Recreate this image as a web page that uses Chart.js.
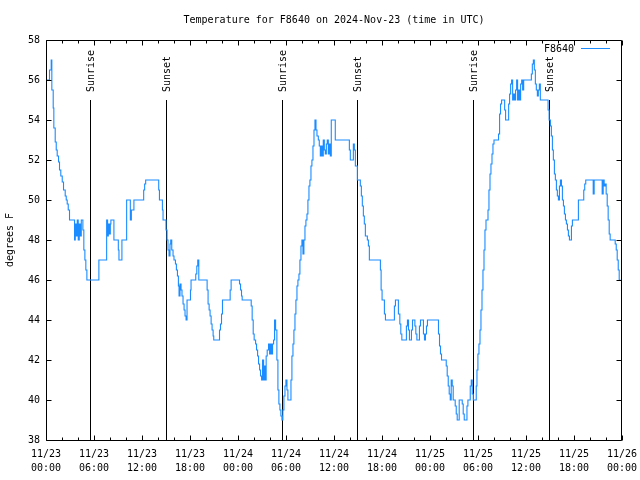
<!DOCTYPE html>
<html>
<head>
<meta charset="utf-8">
<script src="https://cdn.jsdelivr.net/npm/chart.js@4/dist/chart.umd.min.js"></script>
<style>
  html, body { margin: 0; padding: 0; background: #fff; }
  #wrap { width: 640px; height: 480px; }
</style>
</head>
<body>
<div id="wrap"><canvas id="tempChart" width="640" height="480"></canvas></div>
<script>
// hours since 11/23 00:00 UTC, and temperature (F) from that moment on
const tempHours = [
  0, 0.44, 0.65, 0.73, 0.90, 0.98, 1.15, 1.28, 1.40, 1.57,
  1.69, 1.85, 2.03, 2.19, 2.40, 2.53, 2.65, 2.78, 2.94, 3.57,
  3.66, 3.78, 3.91, 4.03, 4.16, 4.28, 4.41, 4.61, 4.73, 4.86,
  4.98, 5.11, 6.61, 7.58, 7.70, 7.79, 7.91, 8.04, 8.11, 8.49,
  9.04, 9.12, 9.49, 10.08, 10.54, 10.67, 10.99, 12.21, 12.33, 12.46,
  14.09, 14.18, 14.55, 14.63, 15.00, 15.13, 15.25, 15.38, 15.50, 15.59,
  15.72, 15.88, 16.00, 16.18, 16.30, 16.43, 16.55, 16.63, 16.75, 16.88,
  17.00, 17.13, 17.26, 17.38, 17.51, 17.63, 18.06, 18.13, 18.72, 18.85,
  18.97, 19.10, 20.14, 20.26, 20.39, 20.51, 20.64, 20.76, 20.89, 20.97,
  21.69, 21.81, 21.94, 22.06, 23.02, 23.14, 24.19, 24.32, 24.44, 24.52,
  25.65, 25.77, 25.90, 26.02, 26.20, 26.32, 26.45, 26.57, 26.70, 26.82,
  26.95, 27.07, 27.20, 27.27, 27.40, 27.52, 27.65, 27.82, 27.95, 28.07,
  28.20, 28.32, 28.45, 28.57, 28.70, 28.86, 28.99, 29.11, 29.24, 29.36,
  29.49, 29.61, 29.74, 29.87, 29.99, 30.12, 30.24, 30.62, 30.74, 30.87,
  30.99, 31.12, 31.24, 31.37, 31.49, 31.62, 31.74, 31.87, 31.99, 32.12,
  32.24, 32.37, 32.49, 32.62, 32.74, 32.87, 32.99, 33.12, 33.24, 33.37,
  33.50, 33.62, 33.75, 33.87, 34.04, 34.16, 34.29, 34.41, 34.54, 34.66,
  34.79, 34.91, 35.04, 35.16, 35.29, 35.41, 35.54, 35.66, 36.16, 37.92,
  38.04, 38.42, 38.54, 38.67, 38.92, 39.29, 39.42, 39.54, 39.67, 39.79,
  39.92, 40.17, 40.30, 40.42, 41.80, 41.89, 42.01, 42.30, 42.43, 43.55,
  43.68, 44.05, 44.23, 44.35, 44.48, 45.05, 45.18, 45.31, 45.43, 45.68,
  45.81, 46.11, 46.23, 46.36, 46.68, 46.81, 47.18, 47.31, 47.43, 47.56,
  47.68, 49.06, 49.19, 49.31, 49.44, 50.03, 50.15, 50.28, 50.40, 50.53,
  50.65, 50.78, 50.90, 51.15, 51.28, 51.40, 51.65, 52.03, 52.15, 52.28,
  52.62, 52.74, 53.03, 53.16, 53.28, 53.41, 53.78, 53.87, 53.99, 54.12,
  54.25, 54.37, 54.50, 54.62, 54.75, 54.87, 55.00, 55.25, 55.37, 55.50,
  55.62, 55.75, 55.87, 56.00, 56.57, 56.70, 56.82, 56.95, 57.33, 57.45,
  57.83, 57.95, 58.08, 58.20, 58.33, 58.45, 58.58, 58.70, 58.83, 58.95,
  59.08, 59.20, 59.33, 59.46, 59.58, 59.71, 60.67, 60.79, 60.92, 61.04,
  61.17, 61.29, 61.42, 61.54, 61.67, 61.79, 62.76, 62.89, 63.05, 63.17,
  63.30, 63.42, 63.55, 63.67, 63.80, 63.92, 64.05, 64.18, 64.30, 64.43,
  64.55, 64.68, 64.80, 64.93, 65.05, 65.18, 65.30, 65.43, 65.68, 65.80,
  66.55, 67.22, 67.34, 67.47, 68.40, 68.52, 69.52, 69.65, 69.77, 69.90,
  70.02, 70.15, 70.27, 70.40, 70.52, 71.15, 71.28, 71.40, 71.53, 71.65,
  71.81
];
const tempValues = [
  56.0, 56.5, 57.0, 55.5, 54.6, 53.6, 52.9, 52.5, 52.2, 51.9,
  51.5, 51.2, 50.9, 50.5, 50.2, 50.0, 49.8, 49.5, 49.0, 48.0,
  48.8, 48.2, 49.0, 48.0, 48.8, 48.2, 49.0, 48.5, 47.5, 47.0,
  46.5, 46.0, 47.0, 49.0, 48.2, 48.8, 48.3, 48.8, 49.0, 48.0,
  47.5, 47.0, 48.0, 50.0, 49.0, 49.5, 50.0, 50.5, 50.8, 51.0,
  50.5, 50.0, 49.5, 49.0, 48.5, 48.0, 47.5, 47.2, 47.8, 48.0,
  47.5, 47.2, 47.0, 46.8, 46.5, 46.2, 45.7, 45.2, 45.8, 45.5,
  45.2, 44.8, 44.5, 44.2, 44.0, 45.0, 45.5, 46.0, 46.3, 46.7,
  47.0, 46.0, 45.5, 44.8, 44.5, 44.2, 43.8, 43.5, 43.2, 43.0,
  43.5, 43.8, 44.3, 45.0, 45.5, 46.0, 45.8, 45.5, 45.2, 45.0,
  44.7, 44.0, 43.3, 43.0, 42.8, 42.5, 42.2, 41.8, 41.5, 41.2,
  41.0, 42.0, 41.0, 41.7, 41.0, 42.2, 42.5, 42.8, 42.3, 42.8,
  42.3, 42.8, 43.0, 44.0, 43.5, 42.0, 40.5, 39.8, 39.5, 39.2,
  39.0, 39.5, 40.2, 40.7, 41.0, 40.5, 40.0, 41.0, 42.2, 42.8,
  43.5, 44.3, 45.0, 45.7, 46.0, 46.3, 47.0, 47.7, 48.0, 47.3,
  48.0, 48.7, 49.0, 49.3, 50.0, 50.7, 51.0, 51.7, 52.0, 52.7,
  53.5, 54.0, 53.5, 53.2, 53.0, 52.7, 52.2, 52.7, 52.2, 53.0,
  52.5, 52.3, 52.8, 53.0, 52.3, 52.8, 52.2, 54.0, 53.0, 52.5,
  52.0, 52.8, 52.5, 51.7, 51.0, 50.7, 50.2, 49.7, 49.2, 48.8,
  48.2, 48.0, 47.7, 47.0, 46.5, 45.5, 45.0, 44.3, 44.0, 44.7,
  45.0, 44.3, 43.8, 43.3, 43.0, 43.7, 44.0, 43.5, 43.0, 43.5,
  44.0, 43.7, 43.3, 43.0, 43.7, 44.0, 43.3, 43.0, 43.3, 43.7,
  44.0, 43.3, 42.7, 42.3, 42.0, 41.7, 41.2, 40.7, 40.3, 40.0,
  41.0, 40.7, 40.0, 39.7, 39.3, 39.0, 40.0, 39.8, 39.3, 39.0,
  39.7, 40.0, 40.7, 41.0, 40.3, 40.0, 40.7, 41.5, 42.3, 42.8,
  43.5, 44.5, 45.5, 46.5, 47.5, 48.5, 49.0, 49.5, 50.5, 51.3,
  51.8, 52.3, 52.8, 53.0, 53.3, 54.3, 54.8, 55.0, 54.5, 54.0,
  54.8, 55.3, 55.8, 56.0, 55.0, 55.3, 55.0, 55.5, 56.0, 55.0,
  55.5, 55.0, 55.8, 56.0, 55.5, 56.0, 56.3, 56.8, 57.0, 56.5,
  55.8, 55.5, 55.2, 55.5, 55.8, 55.0, 54.5, 54.0, 53.7, 53.2,
  52.5, 52.0, 51.3, 51.0, 50.5, 50.2, 50.0, 50.7, 51.0, 50.7,
  50.0, 49.7, 49.3, 49.0, 48.8, 48.5, 48.2, 48.0, 48.7, 49.0,
  50.0, 50.5, 50.8, 51.0, 50.3, 51.0, 50.3, 51.0, 50.7, 50.8,
  50.3, 49.7, 49.0, 48.3, 48.0, 47.8, 47.5, 47.0, 46.5, 46.0,
  46.0
];

// sunrise / sunset markers (hours since 11/23 00:00 UTC)
const sunHours = [5.45, 14.96, 29.46, 38.86, 53.38, 62.90];
const sunLabels = ['Sunrise', 'Sunset', 'Sunrise', 'Sunset', 'Sunrise', 'Sunset'];
const sunLineTop = 55;

const xTickDates = ['11/23', '11/23', '11/23', '11/23', '11/24', '11/24', '11/24', '11/24', '11/25', '11/25', '11/25', '11/25', '11/26'];
const xTickTimes = ['00:00', '06:00', '12:00', '18:00', '00:00', '06:00', '12:00', '18:00', '00:00', '06:00', '12:00', '18:00', '00:00'];
const yTicks = [38, 40, 42, 44, 46, 48, 50, 52, 54, 56, 58];

const FONT = '"DejaVu Sans Mono", "Liberation Mono", monospace';
const LINE_COLOR = '#1a8cff';

const points = tempHours.map((h, i) => ({ x: h, y: tempValues[i] }));

// gnuplot look: box, inward ticks, sun markers, legend inside
const gnuplotBits = {
    id: 'gnuplotBits',
    beforeDatasetsDraw(chart) {
        const { ctx, scales: { x, y } } = chart;
        ctx.save();
        ctx.strokeStyle = '#000';
        ctx.lineWidth = 1;
        ctx.fillStyle = '#000';
        ctx.font = '10px ' + FONT;
        sunHours.forEach((h, i) => {
            const px = Math.round(x.getPixelForValue(h)) + 0.5;
            ctx.beginPath();
            ctx.moveTo(px, y.getPixelForValue(sunLineTop));
            ctx.lineTo(px, y.getPixelForValue(38));
            ctx.stroke();
            ctx.save();
            ctx.translate(px + 1, 92);
            ctx.rotate(-Math.PI / 2);
            ctx.textAlign = 'left';
            ctx.textBaseline = 'middle';
            ctx.fillText(sunLabels[i], 0, 0);
            ctx.restore();
        });
        ctx.restore();
    },
    afterDatasetsDraw(chart) {
        const { ctx, chartArea: a, scales: { x, y } } = chart;
        const L = a.left + 0.5, R = a.right - 0.5, T = a.top + 0.5, B = a.bottom + 0.5;
        ctx.save();
        ctx.strokeStyle = '#000';
        ctx.lineWidth = 1;
        ctx.beginPath();
        ctx.rect(L, T, R - L, B - T);
        // y ticks, both sides, inward
        yTicks.forEach(v => {
            const py = Math.round(y.getPixelForValue(v)) + 0.5;
            ctx.moveTo(L, py); ctx.lineTo(L + 5, py);
            ctx.moveTo(R, py); ctx.lineTo(R - 5, py);
        });
        // x ticks every 2 hours, major every 6
        for (let h = 0; h <= 72; h += 2) {
            const px = Math.round(x.getPixelForValue(h)) + 0.5;
            const len = h % 6 === 0 ? 5 : 3;
            ctx.moveTo(px, B); ctx.lineTo(px, B - len);
            ctx.moveTo(px, T); ctx.lineTo(px, T + len);
        }
        ctx.stroke();

        // legend
        ctx.fillStyle = '#000';
        ctx.font = '10px ' + FONT;
        ctx.textAlign = 'right';
        ctx.textBaseline = 'middle';
        ctx.fillText(chart.data.datasets[0].label, 574, 49);
        ctx.strokeStyle = LINE_COLOR;
        ctx.beginPath();
        ctx.moveTo(581, 48.5);
        ctx.lineTo(610, 48.5);
        ctx.stroke();
        ctx.restore();
    }
};

const ctx = document.getElementById('tempChart').getContext('2d');
new Chart(ctx, {
    type: 'line',
    data: {
        datasets: [{
            label: 'F8640',
            data: points,
            borderColor: LINE_COLOR,
            borderWidth: 1.1,
            pointRadius: 0,
            stepped: true,
            fill: false
        }]
    },
    options: {
        responsive: false,
        animation: false,
        layout: { padding: { left: 0, right: 18, top: 0, bottom: 0 } },
        plugins: {
            legend: { display: false },
            tooltip: { enabled: false },
            title: {
                display: true,
                text: 'Temperature for F8640 on 2024-Nov-23 (time in UTC)',
                color: '#000',
                font: { family: FONT, size: 10, weight: 'normal', lineHeight: 1.2 },
                padding: { top: 14, bottom: 14 },
                fullSize: false
            }
        },
        scales: {
            x: {
                type: 'linear',
                min: 0,
                max: 72,
                afterFit: s => { s.height = 40; s.paddingLeft = 0; s.paddingRight = 0; },
                grid: { display: false, drawTicks: false },
                border: { display: false },
                ticks: {
                    stepSize: 6,
                    autoSkip: false,
                    maxRotation: 0,
                    padding: 7,
                    color: '#000',
                    font: { family: FONT, size: 10, lineHeight: 1.4 },
                    callback: v => [xTickDates[v / 6], xTickTimes[v / 6]]
                }
            },
            y: {
                min: 38,
                max: 58,
                afterFit: s => { s.width = 46; s.paddingTop = 0; s.paddingBottom = 0; },
                grid: { display: false, drawTicks: false },
                border: { display: false },
                ticks: {
                    stepSize: 2,
                    padding: 6,
                    color: '#000',
                    font: { family: FONT, size: 10 }
                },
                title: {
                    display: true,
                    text: 'degrees F',
                    color: '#000',
                    font: { family: FONT, size: 10 },
                    padding: { top: 4, bottom: 4 }
                }
            }
        }
    },
    plugins: [gnuplotBits]
});
</script>
</body>
</html>
